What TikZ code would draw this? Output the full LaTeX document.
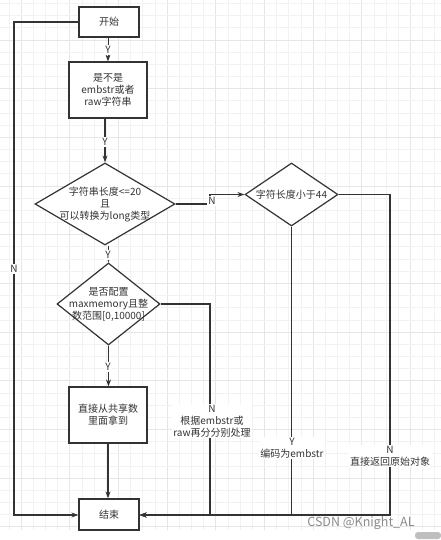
\documentclass[tikz,border=0pt]{standalone}
\usepackage{fontspec}
\setmainfont{Noto Sans CJK SC}
\usetikzlibrary{arrows.meta,shapes.geometric}
\definecolor{ln}{HTML}{333333}
\definecolor{gmin}{HTML}{F2F2F2}
\definecolor{gmaj}{HTML}{E6E6E6}
\tikzset{
  txt/.style={font=\fontsize{10}{12}\selectfont, text=ln, align=center, inner sep=1pt},
  boxn/.style={draw=ln, line width=1.2pt, fill=white, inner sep=0pt},
  dia/.style={draw=ln, line width=1.2pt, fill=white, diamond, inner sep=0pt, aspect=1},
  conn/.style={draw=ln, line width=1.2pt, -{Stealth[length=7pt,width=5pt]}},
  plain/.style={draw=ln, line width=1.2pt},
  elab/.style={txt, fill=white, inner sep=1pt},
}
\begin{document}
\begin{tikzpicture}[x=1pt,y=-1pt]
\useasboundingbox (0,0) rectangle (441,540);
\fill[white] (0,0) rectangle (441,540);
% grid
\foreach \i in {-2,...,34} {
  \pgfmathtruncatemacro{\m}{mod(\i+100,4)}
  \ifnum\m=0 \draw[gmaj, line width=0.8pt] ({21.1+12.17*\i},0) -- ({21.1+12.17*\i},530);
  \else \draw[gmin, line width=0.8pt] ({21.1+12.17*\i},0) -- ({21.1+12.17*\i},530); \fi
}
\foreach \i in {-4,...,40} {
  \pgfmathsetmacro{\yy}{40+12.17*\i}
  \pgfmathtruncatemacro{\m}{mod(\i+100,4)}
  \ifdim\yy pt<530pt \ifdim\yy pt>0pt
  \ifnum\m=0 \draw[gmaj, line width=0.8pt] (0,\yy) -- (441,\yy);
  \else \draw[gmin, line width=0.8pt] (0,\yy) -- (441,\yy); \fi
  \fi\fi
}
% nodes
\node[boxn, minimum width=60pt, minimum height=30pt] (start) at (109,22) {};
\node[txt] (startt) at (start.center) {开始};
\node[boxn, minimum width=78pt, minimum height=56pt] (b1) at (108,90) {};
\node[txt] (b1t) at (b1.center) {是不是\\embstr或者\\raw字符串};
\node[dia, minimum width=140pt, minimum height=82pt] (d1) at (105,204) {};
\node[txt] (d1t) at (105,205) {字符串长度<=20\\且\\可以转换为long类型};
\node[dia, minimum width=93pt, minimum height=63pt] (d2) at (291.5,194.5) {};
\node[txt] (d2t) at (d2.center) {字符长度小于44};
\node[dia, minimum width=103pt, minimum height=82pt] (d3) at (108.5,304) {};
\node[txt] (d3t) at (108.5,304) {是否配置\\maxmemory且整\\数范围[0,10000]};
\node[boxn, minimum width=78pt, minimum height=56pt] (b2) at (108,415) {};
\node[txt] (b2t) at (b2.center) {直接从共享数\\里面拿到};
\node[boxn, minimum width=60pt, minimum height=31pt] (end) at (109,514.5) {};
\node[txt] (endt) at (end.center) {结束};
\coordinate (jA) at (210,204);
\coordinate (jB) at (210,194.5);
% connectors
\draw[conn, line width=0.9pt] (start.south -| 108,0) -- (b1.north -| 108,0);
\draw[conn] (d1.north |- b1.south) -- (d1.north);
\draw[conn] (d1.east) -- (jA) -- (jB) -- (d2.west);
\draw[conn] (d3.north |- d1.south) -- (d3.north);
\draw[conn] (d3.south) -- (b2.north -| d3.south);
\draw[conn] (b2.south -| 108,0) -- (end.north -| 108,0);
\draw[conn] (start.west) -| (14,515) -- (end.west |- 0,515);
\draw[conn] (d3.east) -| (210,515) -- (end.east |- 0,515);
\draw[conn] (d2.south) -- (291.5,515) -- (end.east |- 0,515);
\draw[conn] (d2.east) -| (390,515) -- (end.east |- 0,515);
% labels
\node[elab] (l1) at (108,50) {Y};
\node[elab] (l2) at (105,142) {Y};
\node[elab] (l3) at (212,201) {N};
\node[elab] (l4) at (108,255) {Y};
\node[elab] (l5) at (108,367) {Y};
\node[elab] (l6) at (14,269) {N};
\node[elab] (l7) at (212,421) {N\\根据embstr或\\raw再分分别处理};
\node[elab] (l8) at (292,448) {Y\\编码为embstr};
\node[elab] (l9) at (390,456) {N\\直接返回原始对象};
% watermark
\node[font=\fontsize{12.5}{14}\selectfont, text=black!45, inner sep=0pt] (wm) at (361,523) {CSDN @Knight\_AL};
\fill[black!25, rounded corners=3pt] (415,532) rectangle (441,539);
\end{tikzpicture}
\end{document}
